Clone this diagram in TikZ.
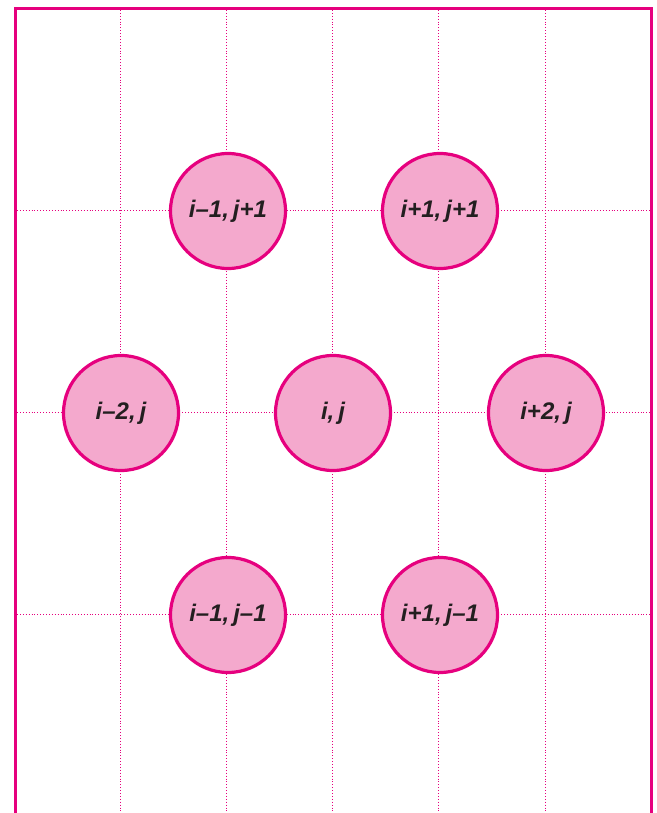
\documentclass[tikz,border=0pt]{standalone}
\usepackage{fontspec}
\setmainfont{Liberation Sans}
\definecolor{mag}{HTML}{E6007E}
\definecolor{pinkfill}{HTML}{F4A9CD}
\definecolor{txt}{HTML}{231F20}
\begin{document}
\begin{tikzpicture}[x=1pt,y=-1pt,
  cell/.style={circle,draw=mag,line width=3.2pt,fill=pinkfill,minimum size=115pt,inner sep=0pt,
    font=\fontsize{24}{26}\selectfont\bfseries\itshape,text=txt},
  gridline/.style={draw=mag,line width=0.9pt,dotted}]
\useasboundingbox (0,0) rectangle (656,813);
% grid
\foreach \x in {120,226,332,438,545} \draw[gridline] (\x,10) -- (\x,813);
\foreach \y in {210,412,614} \draw[gridline] (17,\y) -- (650,\y);
% frame
\coordinate (bl) at (15.5,813);
\coordinate (tl) at (15.5,8.5);
\coordinate (tr) at (651,8.5);
\coordinate (br) at (651,813);
\draw[mag,line width=3pt] (bl) -- (tl) -- (tr) -- (br);
% circles
\node[cell] (a) at (228,211) {i–1,\,j+1};
\node[cell] (b) at (440,211) {i+1,\,j+1};
\node[cell] (c) at (121,413) {i–2,\,j};
\node[cell] (d) at (333,413) {i,\,j};
\node[cell] (e) at (546,413) {i+2,\,j};
\node[cell] (f) at (228,615) {i–1,\,j–1};
\node[cell] (g) at (440,615) {i+1,\,j–1};
\end{tikzpicture}
\end{document}
